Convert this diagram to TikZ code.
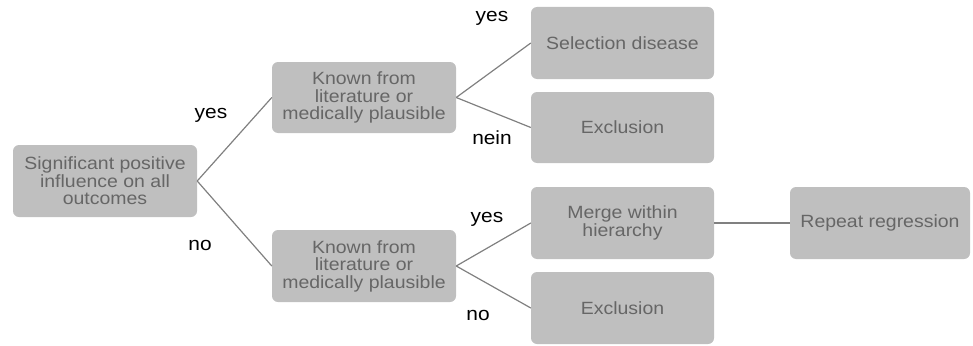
\documentclass[tikz,border=0pt]{standalone}
\usepackage{fontspec}
\setmainfont{Liberation Sans}[FakeStretch=1.1]
\definecolor{boxfill}{HTML}{BFBFBF}
\definecolor{boxtext}{HTML}{666666}
\definecolor{linec}{HTML}{808080}
\tikzset{
  box/.style={fill=boxfill, rounded corners=6pt, inner sep=0pt, align=center,
    text=boxtext, font=\fontsize{17.7}{17.5}\selectfont},
  lbl/.style={font=\fontsize{19}{19}\selectfont, text=black, inner sep=0pt, anchor=base},
  conn/.style={draw=linec, line width=1.2pt}
}
\begin{document}
\begin{tikzpicture}[x=1pt,y=-1pt]
\useasboundingbox (0,0) rectangle (973,345);
\node[box, minimum width=184pt, minimum height=72pt] (root) at (105,181) {Significant positive\\influence on all\\outcomes};
\node[box, minimum width=184pt, minimum height=71pt] (kup) at (364,97.5) {Known from\\literature or\\medically plausible};
\node[box, minimum width=184pt, minimum height=72pt] (klo) at (364,266) {Known from\\literature or\\medically plausible};
\node[box, minimum width=183pt, minimum height=72pt] (sel) at (622.5,43) {Selection disease};
\node[box, minimum width=183pt, minimum height=71pt] (ex1) at (622.5,127.5) {Exclusion};
\node[box, minimum width=183pt, minimum height=72pt] (mer) at (622.5,223) {Merge within\\hierarchy};
\node[box, minimum width=183pt, minimum height=72pt] (ex2) at (622.5,308) {Exclusion};
\node[box, minimum width=180pt, minimum height=72pt] (rep) at (880,223) {Repeat regression};
\draw[conn] (root.east) -- (kup.west);
\draw[conn] (root.east) -- (klo.west);
\draw[conn] (kup.east) -- (sel.west);
\draw[conn] (kup.east) -- (ex1.west);
\draw[conn] (klo.east) -- (mer.west);
\draw[conn] (klo.east) -- (ex2.west);
\draw[conn] (mer.east) -- (rep.west);
\node[lbl] (l1) at (211,118) {yes};
\node[lbl] (l2) at (200,250) {no};
\node[lbl] (l3) at (492,22) {yes};
\node[lbl] (l4) at (492,144) {nein};
\node[lbl] (l5) at (487,222) {yes};
\node[lbl] (l6) at (478,320) {no};
\end{tikzpicture}
\end{document}
